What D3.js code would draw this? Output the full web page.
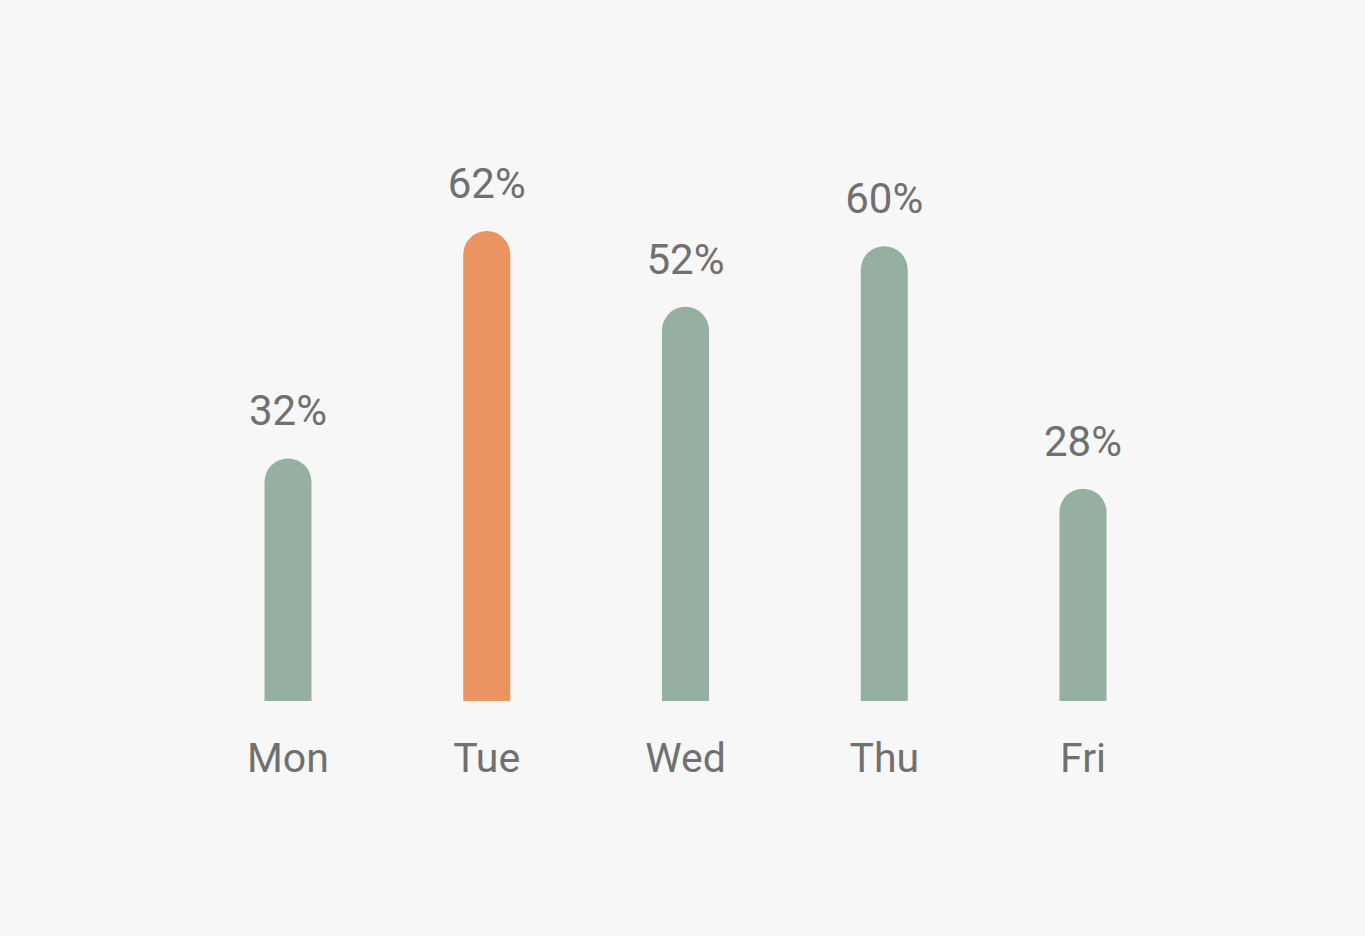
<!DOCTYPE html>
<html><head><meta charset="utf-8">
<script src="https://cdn.jsdelivr.net/npm/d3@7"></script>
<style>
html,body{margin:0;padding:0;background:#f7f7f7;}
svg{display:block;}
text{font-family:Roboto,"Noto Sans",sans-serif;fill:#707070;}
</style></head>
<body>
<svg id="chart" width="1365" height="936"></svg>
<script>
const days = ["Mon","Tue","Wed","Thu","Fri"];
const values = [32,62,52,60,28];
const highlightDay = "Tue";
const colors = {normal:"#95b0a0", highlight:"#e99461"};

const W = 1365, H = 936;
const svg = d3.select("#chart");
svg.append("rect").attr("width",W).attr("height",H).attr("fill","#f7f7f7");

const baseline = 701;
const x = d3.scalePoint().domain(days).range([288,1083]);
const y = d3.scaleLinear().domain([0,62]).range([baseline,231]);
const bw = 47, r = bw/2;

const g = svg.append("g");
days.forEach((d,i)=>{
  const cx = x(d), top = y(values[i]);
  const x0 = cx-bw/2, x1 = cx+bw/2;
  const p = d3.path();
  p.moveTo(x0, baseline);
  p.lineTo(x0, top + r);
  p.arc(cx, top + r, r, Math.PI, 0);
  p.lineTo(x1, baseline);
  p.closePath();
  g.append("path").attr("d",p.toString())
    .attr("fill", d===highlightDay ? colors.highlight : colors.normal);
  g.append("text").attr("x",cx).attr("y",top-33)
    .attr("text-anchor","middle").attr("font-size",42)
    .text(values[i]+"%");
  g.append("text").attr("x",cx).attr("y",772)
    .attr("text-anchor","middle").attr("font-size",41)
    .text(d);
});
</script>
</body></html>
